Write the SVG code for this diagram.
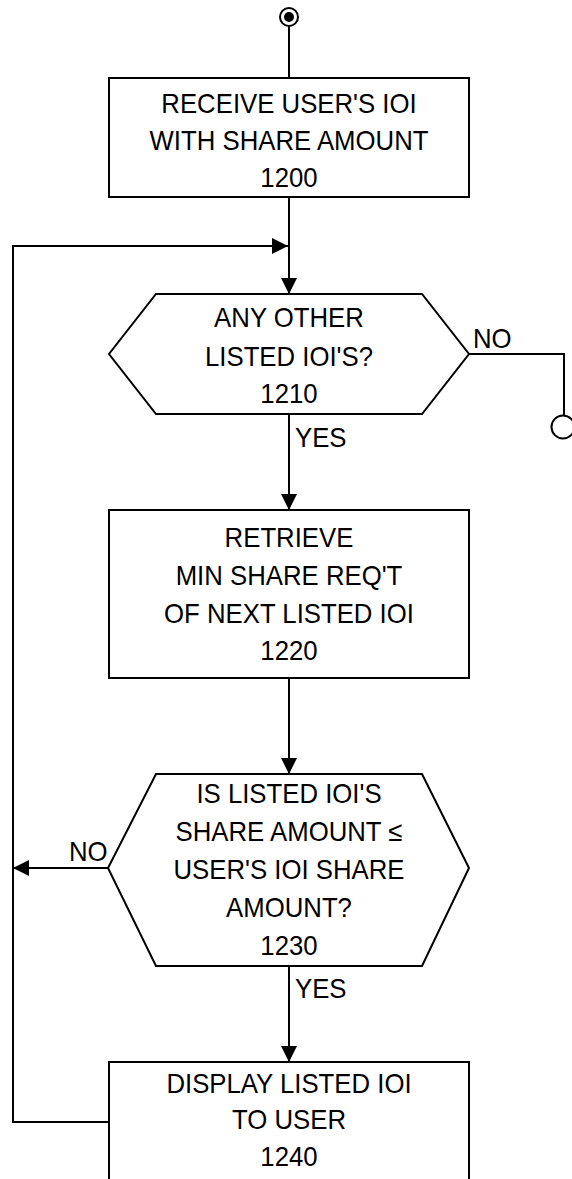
<svg xmlns="http://www.w3.org/2000/svg" width="572" height="1179" viewBox="0 0 572 1179">
<defs>
<style>
.shape{fill:#fff;stroke:#000;stroke-width:2}
.conn{fill:none;stroke:#000;stroke-width:2}
text{font-family:"Liberation Sans",Arial,sans-serif;font-size:28px;fill:#000}
.c{text-anchor:middle}
</style>
<marker id="arr" markerUnits="userSpaceOnUse" markerWidth="16" markerHeight="16" refX="16" refY="8" orient="auto">
<path d="M0,0 L16,8 L0,16 z" fill="#000"/>
</marker>
</defs>
<rect width="572" height="1179" fill="#fff"/>
<g id="connectors">
<line class="conn" x1="289" y1="26" x2="289" y2="78"/>
<line class="conn" x1="289" y1="197" x2="289" y2="294" marker-end="url(#arr)"/>
<polyline class="conn" points="109,1122 13,1122 13,246 288,246" marker-end="url(#arr)"/>
<line class="conn" x1="289" y1="414" x2="289" y2="510" marker-end="url(#arr)"/>
<polyline class="conn" points="469,354 564,354 564,415"/>
<line class="conn" x1="289" y1="678" x2="289" y2="774" marker-end="url(#arr)"/>
<line class="conn" x1="108" y1="868" x2="13" y2="868" marker-end="url(#arr)"/>
<line class="conn" x1="289" y1="966" x2="289" y2="1062" marker-end="url(#arr)"/>
<text transform="translate(295 447) scale(0.92 1)">YES</text>
<text transform="translate(473 348) scale(0.92 1)">NO</text>
<text transform="translate(295 998) scale(0.92 1)">YES</text>
<text transform="translate(69 861) scale(0.92 1)">NO</text>
</g>
<g id="start">
<circle cx="289" cy="17" r="9" fill="#fff" stroke="#000" stroke-width="2"/>
<circle cx="289" cy="17" r="5" fill="#000"/>
</g>
<g id="offpage">
<circle cx="563" cy="427" r="11.5" fill="none" stroke="#000" stroke-width="2"/>
</g>
<g id="n1200">
<rect class="shape" x="109" y="78" width="360" height="119"/>
<text class="c" transform="translate(289 113) scale(0.92 1)">RECEIVE USER'S IOI</text>
<text class="c" transform="translate(289 150) scale(0.92 1)">WITH SHARE AMOUNT</text>
<text class="c" transform="translate(289 187) scale(0.92 1)">1200</text>
</g>
<g id="n1210">
<polygon class="shape" points="156,294 422,294 469,354 422,414 156,414 109,354"/>
<text class="c" transform="translate(289 327) scale(0.92 1)">ANY OTHER</text>
<text class="c" transform="translate(289 366) scale(0.92 1)">LISTED IOI'S?</text>
<text class="c" transform="translate(289 403) scale(0.92 1)">1210</text>
</g>
<g id="n1220">
<rect class="shape" x="109" y="510" width="360" height="168"/>
<text class="c" transform="translate(289 547) scale(0.92 1)">RETRIEVE</text>
<text class="c" transform="translate(289 585) scale(0.92 1)">MIN SHARE REQ'T</text>
<text class="c" transform="translate(289 623) scale(0.92 1)">OF NEXT LISTED IOI</text>
<text class="c" transform="translate(289 660) scale(0.92 1)">1220</text>
</g>
<g id="n1230">
<polygon class="shape" points="156,774 422,774 469,868 422,966 156,966 108,868"/>
<text class="c" transform="translate(289 803) scale(0.92 1)">IS LISTED IOI'S</text>
<text class="c" transform="translate(289 841) scale(0.92 1)">SHARE AMOUNT ≤</text>
<text class="c" transform="translate(289 879) scale(0.92 1)">USER'S IOI SHARE</text>
<text class="c" transform="translate(289 917) scale(0.92 1)">AMOUNT?</text>
<text class="c" transform="translate(289 955) scale(0.92 1)">1230</text>
</g>
<g id="n1240">
<rect class="shape" x="109" y="1062" width="360" height="160"/>
<text class="c" transform="translate(289 1093) scale(0.92 1)">DISPLAY LISTED IOI</text>
<text class="c" transform="translate(289 1129) scale(0.92 1)">TO USER</text>
<text class="c" transform="translate(289 1166) scale(0.92 1)">1240</text>
</g>
</svg>
